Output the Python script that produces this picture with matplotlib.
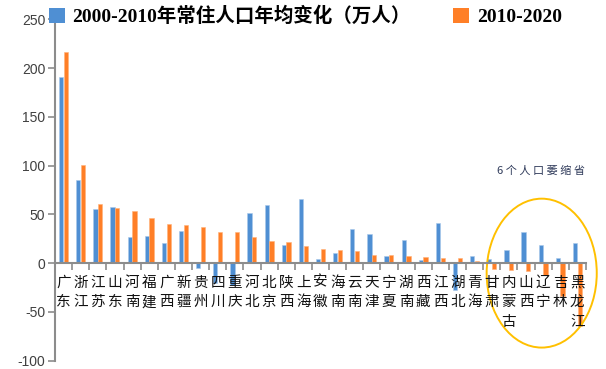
import numpy as np
import matplotlib
matplotlib.use("Agg")
import matplotlib.pyplot as plt
from matplotlib.patches import Ellipse, Patch

# provinces, ordered as in the chart
provinces = ['广东', '浙江', '江苏', '山东', '河南', '福建', '广西', '新疆', '贵州', '四川',
             '重庆', '河北', '北京', '陕西', '上海', '安徽', '海南', '云南', '天津', '宁夏',
             '湖南', '西藏', '江西', '湖北', '青海', '甘肃', '内蒙古', '山西', '辽宁', '吉林', '黑龙江']

# yearly average change of resident population (10k people)
chg_2000_2010 = [190.5, 85, 56, 57.5, 27, 27.5, 21, 33, -5, -20,
                 -22, 51.5, 60, 19, 66, 4.5, 10.5, 35.5, 30, 7.5,
                 24, 3, 41, -27, 7.5, 4, 13, 32, 18.5, 5.5, 20.5]
chg_2010_2020 = [216.5, 101, 60.5, 56.5, 53, 46, 40.5, 39.5, 37.5, 32,
                 31.5, 27, 22.5, 21.5, 18, 15, 13.5, 12, 8.5, 8.5,
                 7, 6, 5.5, 5, 2.7, -5.8, -6.8, -7.8, -12, -34, -64.5]

legend_labels = ['2000-2010年常住人口年均变化（万人）', '2010-2020']
note_text = '6 个 人 口 萎 缩 省'
y_ticks = [-100, -50, 0, 50, 100, 150, 200, 250]

blue = '#4F8FD3'
orange = '#FF7F27'
axis_gray = '#8C8C8C'

fig = plt.figure(figsize=(6.06, 3.69), dpi=100)
ax = fig.add_axes([0.0908, 0.0225, 0.876, 0.925])

x = np.arange(len(provinces))
w = 0.25
ax.bar(x - 0.14, chg_2000_2010, width=w, color=blue, edgecolor='#A9C8EA', linewidth=0.4)
ax.bar(x + 0.14, chg_2010_2020, width=w, color=orange, edgecolor='#FFB27A', linewidth=0.4)

ax.set_xlim(-0.5, len(provinces) - 0.5)
ax.set_ylim(-100, 250)
ax.set_yticks(y_ticks)
ax.set_yticklabels([str(v) for v in y_ticks], fontsize=10, family='Liberation Sans', color='#404040')

for s in ['top', 'right']:
    ax.spines[s].set_visible(False)
ax.spines['bottom'].set_position(('data', 0))
for s in ['left', 'bottom']:
    ax.spines[s].set_color(axis_gray)
    ax.spines[s].set_linewidth(1.5)

ax.tick_params(axis='y', direction='out', length=5, width=1.2, color=axis_gray, pad=2)

# category labels stacked vertically, tick marks between categories
ax.set_xticks(x)
ax.set_xticklabels(['\n'.join(p) for p in provinces], fontsize=10.5,
                   family=['Noto Sans CJK SC'], linespacing=1.5, color='#111111')
ax.tick_params(axis='x', which='major', length=0, pad=9)
ax.set_xticks(np.arange(-0.5, len(provinces), 1), minor=True)
ax.tick_params(axis='x', which='minor', direction='out', length=5, width=1.2, color=axis_gray)

# highlight the shrinking provinces
ell = Ellipse((27.92, -10.2), 6.43, 152.7, fill=False, edgecolor='#FFC000', linewidth=1.4, clip_on=False)
ax.add_patch(ell)
ax.text(27.86, 94.5, note_text, ha='center', va='center', fontsize=8,
        family=['Noto Sans CJK SC'], color='#2F3A5A')

handles = [Patch(facecolor=blue, edgecolor='none'), Patch(facecolor=orange, edgecolor='none')]
fig.legend(handles, legend_labels, ncol=2, loc='upper left', bbox_to_anchor=(0.052, 1.03),
           frameon=False, handlelength=0.8, handleheight=0.8, handletextpad=0.4,
           columnspacing=2.2, prop={'family': ['Liberation Serif', 'Noto Sans CJK SC'],
                                    'weight': 'bold', 'size': 14})

fig.savefig('out.png', dpi=100, facecolor='white')
